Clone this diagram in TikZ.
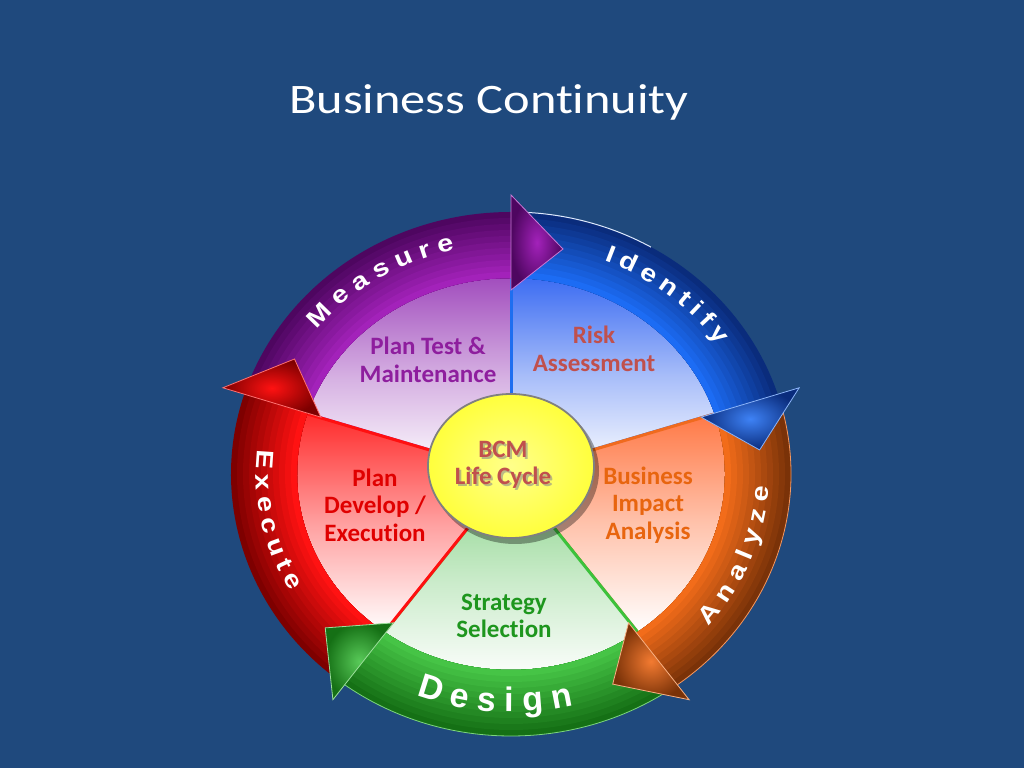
\documentclass[tikz,border=0pt]{standalone}
\usepackage{fontspec}
\setmainfont[Ligatures=NoCommon]{Carlito}
\newfontfamily\titlefont[Ligatures=NoCommon,FakeStretch=1.2]{Carlito}
\newfontfamily\ringfont[FakeStretch=1.2]{Liberation Sans}
\newfontfamily\ringfontb{Liberation Sans}
\usetikzlibrary{decorations.text,shapes.geometric}

\definecolor{bg}{HTML}{1F497D}
% purple
\definecolor{pD}{HTML}{4E0660}\definecolor{pL}{HTML}{A322BA}\definecolor{pS}{HTML}{A24EBE}\definecolor{pB}{HTML}{9A2AB0}\definecolor{pT}{HTML}{8E1E9E}
% blue
\definecolor{bD}{HTML}{0A2C7C}\definecolor{bL}{HTML}{1C6CF4}\definecolor{bS}{HTML}{3D6DF2}\definecolor{bB}{HTML}{1E6EF0}
% orange
\definecolor{oD}{HTML}{7A3208}\definecolor{oL}{HTML}{F26C1A}\definecolor{oS}{HTML}{FF7845}\definecolor{oB}{HTML}{F06A1E}\definecolor{oT}{HTML}{E8650F}
% green
\definecolor{gD}{HTML}{157015}\definecolor{gL}{HTML}{46C446}\definecolor{gS}{HTML}{86D286}\definecolor{gB}{HTML}{3CC23C}\definecolor{gT}{HTML}{1E961E}
% red
\definecolor{rD}{HTML}{7E0000}\definecolor{rL}{HTML}{FF1212}\definecolor{rS}{HTML}{FF2A2A}\definecolor{rB}{HTML}{FF1010}\definecolor{rT}{HTML}{E00000}
% misc
\definecolor{brick}{HTML}{C0504D}\definecolor{yel}{HTML}{FFFF3C}\definecolor{yelc}{HTML}{FFFF8A}

\newcommand{\rtxt}{\ringfont\bfseries\fontsize{24}{24}\selectfont}
\newcommand{\rtxtb}{\ringfontb\bfseries\fontsize{34}{34}\selectfont}

% slice: start, end, top colour, border colour
\newcommand{\slicepart}[4]{%
  \shade[top color=#3, bottom color=white, middle color=#3!45!white]
    (0,0) -- (#1:216pt and 196pt) arc[start angle=#1, end angle=#2, x radius=216pt, y radius=196pt] -- cycle;
  \draw[#4, line width=3pt] (0,0) -- (#1:216pt and 196pt);
  \draw[#4, line width=3pt] (0,0) -- (#2:216pt and 196pt);}

% ring: start, end, dark, light
\newcommand{\ringseg}[4]{%
  \foreach \i in {0,...,10}{%
    \pgfmathsetmacro{\ww}{66-6*\i}%
    \pgfmathsetmacro{\rxx}{214+\ww/2}%
    \pgfmathsetmacro{\ryy}{196+\ww/2}%
    \pgfmathtruncatemacro{\pp}{\i*10}%
    \draw[line width=\ww pt, #4!\pp!#3]
      (#1:\rxx pt and \ryy pt) arc[start angle=#1, end angle=#2, x radius=\rxx pt, y radius=\ryy pt];
  }}

% arrow head: end angle, dark, light
\newcommand{\arrowhd}[3]{%
  \pgfmathsetmacro{\tp}{#1-12}%
  \shadedraw[inner color=#3, outer color=#2, draw=#3!60!white, line width=0.8pt]
    (#1:200pt and 184pt) -- (#1:303pt and 279pt) -- (\tp:250pt and 230pt) -- cycle;}

\tikzset{
  label/.style={font=\bfseries\fontsize{25}{27.5}\selectfont, align=center, inner sep=0pt},
  ringtext/.style={decorate, decoration={text along path, text={#1}, text color=white, text align=fit to path}}
}

\begin{document}
\begin{tikzpicture}[x=1pt,y=1pt]
\useasboundingbox (0,0) rectangle (1024,768);
\fill[bg] (0,0) rectangle (1024,768);

\node[font=\titlefont\fontsize{42}{48}\selectfont, text=white, anchor=base, inner sep=0pt] (title) at (489,654) {Business Continuity};

\begin{scope}[shift={(511,294)}]
  % slices
  \slicepart{90}{162}{pS}{pB}
  \slicepart{18}{90}{bS}{bB}
  \slicepart{-54}{18}{oS}{oB}
  \slicepart{-126}{-54}{gS}{gB}
  \slicepart{162}{234}{rS}{rB}
  % rings
  \ringseg{160}{88}{pD}{pL}
  \ringseg{88}{16}{bD}{bL}
  \ringseg{16}{-56}{oD}{oL}
  \ringseg{-56}{-128}{gD}{gL}
  \ringseg{232}{160}{rD}{rL}
  \draw[oL!70!white, line width=0.8pt] (16:280pt and 262pt) arc[start angle=16, end angle=-56, x radius=280pt, y radius=262pt];
  \draw[gL!70!white, line width=0.8pt] (-56:280pt and 262pt) arc[start angle=-56, end angle=-128, x radius=280pt, y radius=262pt];
  \draw[white!85!bL, line width=1pt] (88:280pt and 262pt) arc[start angle=88, end angle=60, x radius=280pt, y radius=262pt];
  % arrow heads
  \arrowhd{90}{pD}{pL}
  \arrowhd{18}{bD}{bL!85!white}
  \arrowhd{-54}{oD}{oL!90!white}
  \arrowhd{234}{gD}{gL!90!white}
  \arrowhd{162}{rD}{rL}
  % centre hub
  \fill[black, opacity=0.35] (4,3) ellipse[x radius=84pt, y radius=73pt];
  \shadedraw[inner color=yelc, outer color=yel, draw=gray, line width=1.8pt] (0,8) ellipse[x radius=83pt, y radius=72pt];
  % ring texts
  \path[ringtext={|\rtxt|Measure}] (141:250pt and 230pt) arc[start angle=141, end angle=103, x radius=250pt, y radius=230pt];
  \path[ringtext={|\rtxt|Identify}] (68:250pt and 230pt) arc[start angle=68, end angle=34, x radius=250pt, y radius=230pt];
  \path[ringtext={|\rtxt|Analyze}] (-40:258pt and 237pt) arc[start angle=-40, end angle=-3, x radius=258pt, y radius=237pt];
  \path[ringtext={|\rtxt|Execute}] (174:255pt and 235pt) arc[start angle=174, end angle=210, x radius=255pt, y radius=235pt];
  \path[ringtext={|\rtxtb|Design}] (248.5:258pt and 238pt) arc[start angle=248.5, end angle=284, x radius=258pt, y radius=238pt];
\end{scope}

% labels
\node[label, text=pT] (maint) at (428,408) {Plan Test \&\\Maintenance};
\node[label, text=brick] (risk) at (594,419) {Risk\\Assessment};
\node[label, text=black!45, opacity=0.6] (bcmshadow) at (505,301) {BCM\\Life Cycle};
\node[label, text=brick] (bcm) at (503,303) {BCM\\Life Cycle};
\node[label, text=rT] (plandev) at (375,263) {Plan\\Develop /\\Execution};
\node[label, text=oT] (bia) at (648,263) {Business\\Impact\\Analysis};
\node[label, text=gT] (strat) at (504,152) {Strategy\\Selection};
\end{tikzpicture}
\end{document}
